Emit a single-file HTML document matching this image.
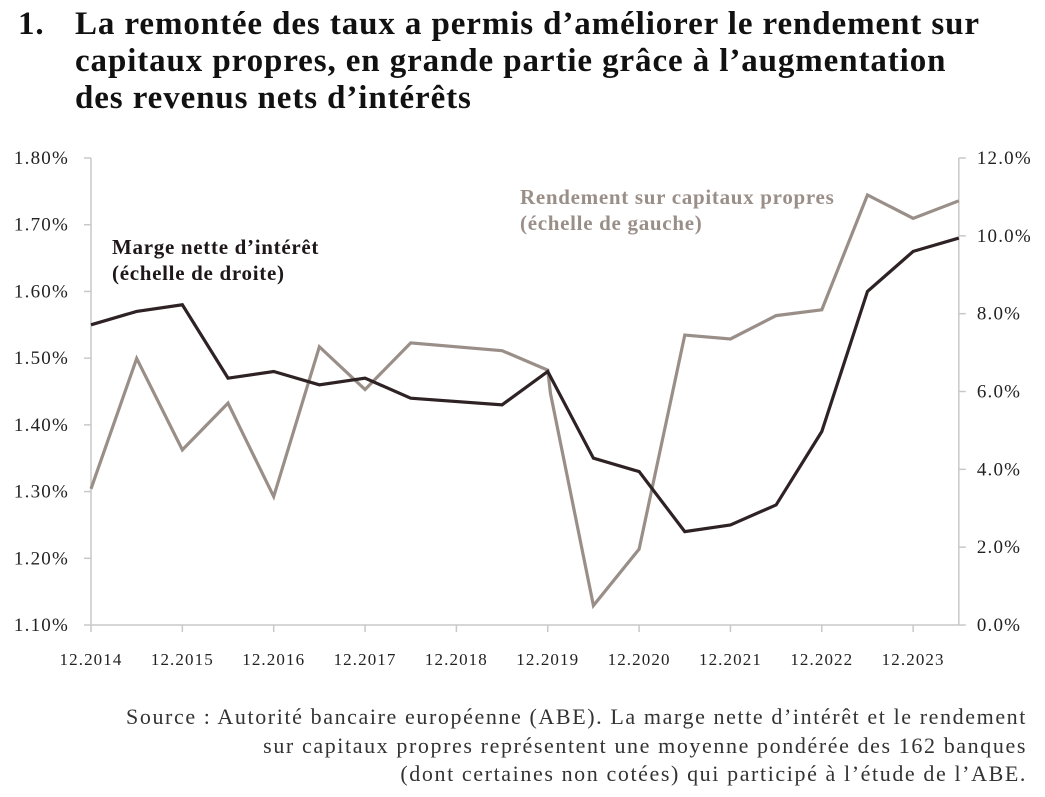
<!DOCTYPE html>
<html><head><meta charset="utf-8"><style>
body{margin:0;background:#fff;width:1045px;height:797px;overflow:hidden;font-family:"Liberation Serif",serif;}
.t{position:absolute;left:18px;top:6px;font-weight:bold;font-size:33px;line-height:37px;color:#111;letter-spacing:0.9px;white-space:nowrap;}
.t span{position:absolute;left:0;}
.src{position:absolute;right:18px;top:703px;text-align:right;font-size:22px;line-height:28.5px;color:#333;letter-spacing:1.6px;white-space:nowrap;}
</style></head><body>
<div class="t"><span>1.</span><div style="margin-left:57px">La remontée des taux a permis d’améliorer le rendement sur<br>capitaux propres, en grande partie grâce à l’augmentation<br>des revenus nets d’intérêts</div></div>
<svg id="c" width="1045" height="797" style="position:absolute;left:0;top:0"></svg>
<div class="src">Source : Autorité bancaire européenne (ABE). La marge nette d’intérêt et le rendement<br>sur capitaux propres représentent une moyenne pondérée des 162 banques<br>(dont certaines non cotées) qui participé à l’étude de l’ABE.</div>
<script>
const xLabels=["12.2014","12.2015","12.2016","12.2017","12.2018","12.2019","12.2020","12.2021","12.2022","12.2023"];
const leftTicks=["1.10%","1.20%","1.30%","1.40%","1.50%","1.60%","1.70%","1.80%"];
const rightTicks=["0.0%","2.0%","4.0%","6.0%","8.0%","10.0%","12.0%"];
const nimT=[0,0.5,1,1.5,2,2.5,3,3.5,4.5,5,5.5,6,6.5,7,7.5,8,8.5,9,9.5];
const nimV=[1.55,1.57,1.58,1.47,1.48,1.46,1.47,1.44,1.43,1.48,1.35,1.33,1.24,1.25,1.28,1.39,1.60,1.66,1.68];
const roeT=[0,0.5,1,1.5,2,2.5,3,3.5,4.5,5,5.03,5.5,6,6.5,7,7.5,8,8.5,9,9.5];
const roeV=[3.5,6.85,4.5,5.7,3.3,7.15,6.05,7.25,7.05,6.55,5.95,0.5,1.95,7.45,7.35,7.95,8.1,11.05,10.45,10.9];
const svg=document.getElementById('c');const NS='http://www.w3.org/2000/svg';
const X0=91,XW=91.35,Y0=625,YT=158;
const x=t=>X0+t*XW;
const yL=v=>Y0-(v-1.10)/0.70*(Y0-YT);
const yR=v=>Y0-v/12*(Y0-YT);
function mk(tag,a,txt){const e=document.createElementNS(NS,tag);for(const k in a)e.setAttribute(k,a[k]);if(txt!==undefined)e.textContent=txt;svg.appendChild(e);return e;}
const ax='#c8c8c8';
let e=mk('line',{x1:X0,y1:YT,x2:X0,y2:Y0,stroke:ax,'stroke-width':1.5});

e=mk('line',{x1:x(9.5),y1:YT,x2:x(9.5),y2:Y0,stroke:ax,'stroke-width':1.5});

e=mk('line',{x1:X0,y1:Y0,x2:x(9.5),y2:Y0,stroke:ax,'stroke-width':1.5});

leftTicks.forEach((l,i)=>{const v=1.10+i*0.1,yy=yL(v);
 mk('line',{x1:X0-7,y1:yy,x2:X0,y2:yy,stroke:ax,'stroke-width':1.5});
 const t=mk('text',{x:X0-22,y:yy+6,'text-anchor':'end','font-size':19,'letter-spacing':1.2,fill:'#222'},l);
 });
rightTicks.forEach((l,i)=>{const yy=yR(i*2);
 mk('line',{x1:x(9.5),y1:yy,x2:x(9.5)+7,y2:yy,stroke:ax,'stroke-width':1.5});
 const t=mk('text',{x:x(9.5)+18,y:yy+6,'font-size':19,'letter-spacing':1.2,fill:'#222'},l);
 });
xLabels.forEach((l,i)=>{const xx=x(i);
 mk('line',{x1:xx,y1:Y0,x2:xx,y2:Y0+7,stroke:ax,'stroke-width':1.5});
 const t=mk('text',{x:xx,y:Y0+40,'text-anchor':'middle','font-size':17,'letter-spacing':1.1,fill:'#222'},l);
 });
e=mk('polyline',{points:roeT.map((t,i)=>x(t)+','+yR(roeV[i])).join(' '),fill:'none',stroke:'#9a8f88','stroke-width':3.2,'stroke-linejoin':'miter'});

e=mk('polyline',{points:nimT.map((t,i)=>x(t)+','+yL(nimV[i])).join(' '),fill:'none',stroke:'#2e2224','stroke-width':3.2,'stroke-linejoin':'miter'});

function lab(lines,xx,yy,col,name){lines.forEach((s,i)=>{const t=mk('text',{x:xx,y:yy+i*26,'font-size':21,'font-weight':'bold','letter-spacing':0.7,fill:col},s);
 });}
lab(["Marge nette d’intérêt","(échelle de droite)"],112,254,'#1e1618','nim-label');
lab(["Rendement sur capitaux propres","(échelle de gauche)"],520,204,'#9a8f88','roe-label');
</script>
</body></html>
